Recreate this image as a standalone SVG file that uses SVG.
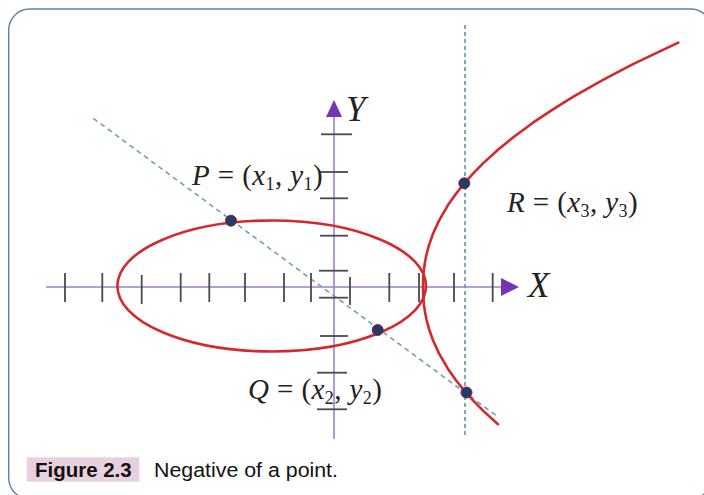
<svg xmlns="http://www.w3.org/2000/svg" width="704" height="495" viewBox="0 0 704 495">
<defs>
<style>
.frame{fill:#ffffff;stroke:#5f7fa6;stroke-width:1.4}
.axis{stroke:#9a80cc;stroke-width:1.6;fill:none}
.arrow{fill:#7434b4}
.tick{stroke:#4a4a4a;stroke-width:1.8}
.curve{fill:none;stroke:#d4282c;stroke-width:2.6;stroke-linejoin:round;stroke-linecap:round}
.dash{fill:none;stroke:#6fa0b8;stroke-width:1.6;stroke-dasharray:5 4}
.vdash{fill:none;stroke:#6fa0b8;stroke-width:1.8;stroke-dasharray:4 3}
.dot{fill:#223c6a;stroke:#8a2040;stroke-width:1}
.math{font-family:"Liberation Serif","Times New Roman",serif;font-size:29px;letter-spacing:0.4px;fill:#222}
.it{font-style:italic}
.sub{font-size:18px}
.axlab{font-family:"Liberation Serif","Times New Roman",serif;font-style:italic;font-size:35px;fill:#222}
.cap{font-family:"Liberation Sans",Arial,sans-serif;font-size:20px;fill:#111}
</style>
</defs>
<rect class="frame" x="8.7" y="9" width="703" height="490" rx="21" ry="21"/>

<g id="connectors">
<line class="dash" x1="93.3" y1="118.3" x2="496.7" y2="416"/>
<line class="vdash" x1="465" y1="25" x2="465" y2="438"/>
</g>

<g id="x-axis">
<line class="axis" x1="46" y1="287" x2="502" y2="287"/>
<polygon class="arrow" points="519,287 501,278 501,296"/>
<g class="tick">
<line x1="65" y1="273" x2="65" y2="302"/>
<line x1="102.3" y1="273" x2="102.3" y2="302"/>
<line x1="141.7" y1="275" x2="141.7" y2="304"/>
<line x1="180.7" y1="273" x2="180.7" y2="302"/>
<line x1="209.3" y1="273" x2="209.3" y2="302"/>
<line x1="245" y1="273" x2="245" y2="302"/>
<line x1="284" y1="273" x2="284" y2="302"/>
<line x1="311" y1="273" x2="311" y2="302"/>
<line x1="350" y1="277" x2="350" y2="305"/>
<line x1="389.3" y1="273" x2="389.3" y2="302"/>
<line x1="419" y1="273" x2="419" y2="302"/>
<line x1="454" y1="273" x2="454" y2="302"/>
<line x1="492.7" y1="273" x2="492.7" y2="302"/>
</g>
<text class="axlab" x="528" y="297">X</text>
</g>

<g id="y-axis">
<line class="axis" x1="334" y1="115" x2="334" y2="439"/>
<polygon class="arrow" points="334,100 326,117 342,117"/>
<g class="tick">
<line x1="321" y1="134.3" x2="352" y2="134.3"/>
<line x1="320" y1="172" x2="348" y2="172"/>
<line x1="320" y1="198.3" x2="348" y2="198.3"/>
<line x1="320" y1="235.7" x2="348" y2="235.7"/>
<line x1="319" y1="270.7" x2="348" y2="270.7"/>
<line x1="319" y1="297.7" x2="348" y2="297.7"/>
<line x1="320" y1="336" x2="348" y2="336"/>
<line x1="317" y1="372.7" x2="347" y2="372.7"/>
<line x1="317" y1="409.3" x2="347" y2="409.3"/>
</g>
<text class="axlab" x="346" y="121">Y</text>
</g>

<g id="oval">
<ellipse class="curve" cx="271.7" cy="286" rx="154.3" ry="65.5"/>
</g>

<g id="branch">
<polyline class="curve" points="498,424.2 483,410.6 473,400.4 464.3,390.7 456,380.3 448,368.9 439,353.4 433,340.2 429,328.9 426.5,319.5 425,312 424,305 423.5,300 423.25,296.4 423,287 423.25,277.6 423.5,274 424,269 425,262 426.5,254.5 429,245.1 433,233.8 439,220.6 448,205.1 456,193.7 464.3,183.3 473,173.6 483,163.4 498,149.8 513,137.5 533,122.7 553,109.3 573,96.9 603,79.9 633,64.2 678.3,42.7"/>
</g>

<g id="point-P">
<circle class="dot" cx="231" cy="220.7" r="5.5"/>
<text class="math" x="192" y="185"><tspan class="it">P</tspan> = (<tspan class="it">x</tspan><tspan class="sub" dy="5">1</tspan><tspan dy="-5">, </tspan><tspan class="it">y</tspan><tspan class="sub" dy="5">1</tspan><tspan dy="-5">)</tspan></text>
</g>

<g id="point-Q">
<circle class="dot" cx="377.7" cy="330" r="5.5"/>
<text class="math" x="248" y="399"><tspan class="it">Q</tspan> = (<tspan class="it">x</tspan><tspan class="sub" dy="5">2</tspan><tspan dy="-5">, </tspan><tspan class="it">y</tspan><tspan class="sub" dy="5">2</tspan><tspan dy="-5">)</tspan></text>
</g>

<g id="point-R">
<circle class="dot" cx="464.3" cy="183.3" r="5.5"/>
<text class="math" x="507" y="212"><tspan class="it">R</tspan> = (<tspan class="it">x</tspan><tspan class="sub" dy="5">3</tspan><tspan dy="-5">, </tspan><tspan class="it">y</tspan><tspan class="sub" dy="5">3</tspan><tspan dy="-5">)</tspan></text>
</g>

<g id="point-negR">
<circle class="dot" cx="466.5" cy="392.5" r="5.5"/>
</g>

<g id="caption">
<rect x="26.7" y="457.3" width="112.6" height="24.4" fill="#e8d0df"/>
<text class="cap" x="35" y="476.5" font-weight="bold" textLength="96.7" lengthAdjust="spacingAndGlyphs">Figure 2.3</text>
<text class="cap" x="154" y="476.5" textLength="184" lengthAdjust="spacingAndGlyphs">Negative of a point.</text>
</g>
</svg>
